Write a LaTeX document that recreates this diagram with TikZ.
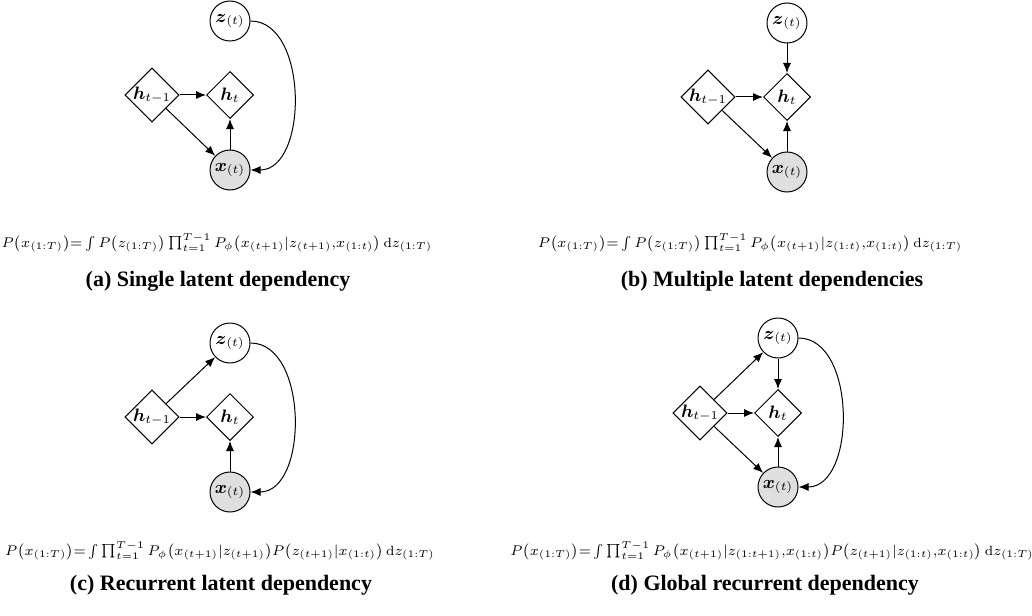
\documentclass[tikz,border=0pt]{standalone}
\usepackage{amsmath}
\usepackage{amssymb}
\usepackage{fontspec}
\newfontfamily\capfont{Liberation Serif}
\usetikzlibrary{shapes.geometric}
\usetikzlibrary{arrows.meta}

\tikzset{
  latent/.style={draw, circle, minimum size=20pt, inner sep=0pt, line width=0.5pt, font=\small},
  observed/.style={latent, fill=gray!25},
  hidden/.style={draw, diamond, minimum size=23.5pt, inner sep=0pt, line width=0.5pt, font=\small},
  edge/.style={arrows={-Latex[width=4pt, length=5pt]}, line width=0.5pt},
  formula/.style={inner sep=0pt, font=\fontsize{6.7}{8}\selectfont},
  subcaption/.style={inner sep=0pt, font=\capfont\bfseries\fontsize{11}{13}\selectfont}
}

\begin{document}
\begin{tikzpicture}[x=0.5pt, y=-0.5pt]
\useasboundingbox (0, 0) rectangle (1032, 615);

% (a)
\node[latent] (z_a) at (230, 21) {$\boldsymbol{z}_{(t)}$};
\node[hidden] (hprev_a) at (152, 95) {$\boldsymbol{h}_{t-1}$};
\node[hidden] (h_a) at (230, 95) {$\boldsymbol{h}_{t}$};
\node[observed] (x_a) at (230, 170) {$\boldsymbol{x}_{(t)}$};
\draw[edge] (hprev_a) -- (h_a);
\draw[edge] (hprev_a) -- (x_a);
\draw[edge] (x_a) -- (h_a);
\draw[edge] (z_a.east) to[out=0, in=0] (x_a.east);
\node[formula] (eq_a) at (217, 243) {$P\big(x_{(1:T)}\big){=}\int P\big(z_{(1:T)}\big)\prod_{t=1}^{T-1}P_{\phi}\big(x_{(t+1)}|z_{(t+1)}{,}x_{(1:t)}\big)\,\mathrm{d}z_{(1:T)}$};
\node[subcaption] (cap_a) at (218, 281) {(a) Single latent dependency};

% (b)
\node[latent] (z_b) at (787, 23) {$\boldsymbol{z}_{(t)}$};
\node[hidden] (hprev_b) at (708, 97) {$\boldsymbol{h}_{t-1}$};
\node[hidden] (h_b) at (787, 97) {$\boldsymbol{h}_{t}$};
\node[observed] (x_b) at (787, 172) {$\boldsymbol{x}_{(t)}$};
\draw[edge] (z_b) -- (h_b);
\draw[edge] (hprev_b) -- (h_b);
\draw[edge] (hprev_b) -- (x_b);
\draw[edge] (x_b) -- (h_b);
\node[formula] (eq_b) at (750, 243) {$P\big(x_{(1:T)}\big){=}\int P\big(z_{(1:T)}\big)\prod_{t=1}^{T-1}P_{\phi}\big(x_{(t+1)}|z_{(1:t)}{,}x_{(1:t)}\big)\,\mathrm{d}z_{(1:T)}$};
\node[subcaption] (cap_b) at (772, 281) {(b) Multiple latent dependencies};

% (c)
\node[latent] (z_c) at (230, 343) {$\boldsymbol{z}_{(t)}$};
\node[hidden] (hprev_c) at (152, 417) {$\boldsymbol{h}_{t-1}$};
\node[hidden] (h_c) at (230, 417) {$\boldsymbol{h}_{t}$};
\node[observed] (x_c) at (230, 492) {$\boldsymbol{x}_{(t)}$};
\draw[edge] (hprev_c) -- (z_c);
\draw[edge] (hprev_c) -- (h_c);
\draw[edge] (x_c) -- (h_c);
\draw[edge] (z_c.east) to[out=0, in=0] (x_c.east);
\node[formula] (eq_c) at (220, 551) {$P\big(x_{(1:T)}\big){=}\int\prod_{t=1}^{T-1}P_{\phi}\big(x_{(t+1)}|z_{(t+1)}\big)P\big(z_{(t+1)}|x_{(1:t)}\big)\,\mathrm{d}z_{(1:T)}$};
\node[subcaption] (cap_c) at (221, 585) {(c) Recurrent latent dependency};

% (d)
\node[latent] (z_d) at (778, 338) {$\boldsymbol{z}_{(t)}$};
\node[hidden] (hprev_d) at (700, 413) {$\boldsymbol{h}_{t-1}$};
\node[hidden] (h_d) at (778, 413) {$\boldsymbol{h}_{t}$};
\node[observed] (x_d) at (778, 487) {$\boldsymbol{x}_{(t)}$};
\draw[edge] (hprev_d) -- (z_d);
\draw[edge] (hprev_d) -- (h_d);
\draw[edge] (hprev_d) -- (x_d);
\draw[edge] (z_d) -- (h_d);
\draw[edge] (x_d) -- (h_d);
\draw[edge] (z_d.east) to[out=0, in=0] (x_d.east);
\node[formula] (eq_d) at (772, 551) {$P\big(x_{(1:T)}\big){=}\int\prod_{t=1}^{T-1}P_{\phi}\big(x_{(t+1)}|z_{(1:t+1)}{,}x_{(1:t)}\big)P\big(z_{(t+1)}|z_{(1:t)}{,}x_{(1:t)}\big)\,\mathrm{d}z_{(1:T)}$};
\node[subcaption] (cap_d) at (765, 585) {(d) Global recurrent dependency};
\end{tikzpicture}
\end{document}
